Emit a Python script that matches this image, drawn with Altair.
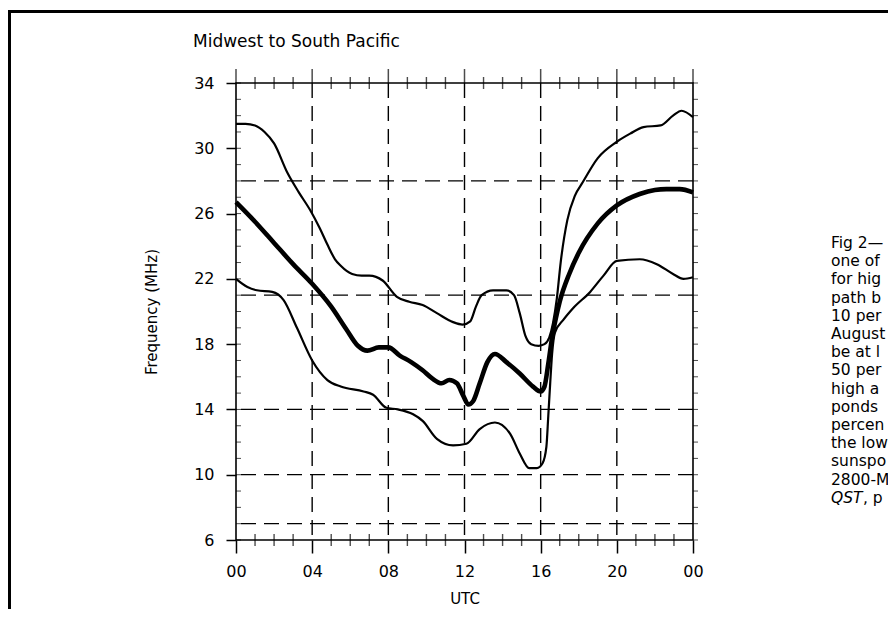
import altair as alt
import pandas as pd

# ---------------- data ----------------
title_text = "Midwest to South Pacific"
x_title = "UTC"
y_title = "Frequency (MHz)"
caption_lines = ["Fig 2\u2014", "one of", "for hig", "path b", "10 per", "August",
                 "be at l", "50 per", "high a", "ponds", "percen", "the low",
                 "sunspo", "2800-M"]
caption_last_italic = "QST"
caption_last_rest = ", p"

upper_hours = [0, 0.5, 1.0, 1.5, 2.0, 2.7, 3.3, 3.9, 4.4, 4.8, 5.2, 5.5, 6.1, 6.6, 7.0,
               7.7, 8.45, 9.1, 9.8, 10.55, 11.4, 11.9, 12.3, 12.6, 12.9, 13.5, 14.2,
               14.6, 14.9, 15.2, 15.5, 15.9, 16.2, 16.45, 16.65, 16.85, 17.05, 17.4,
               17.8, 18.2, 19.0, 20.0, 20.7, 21.4, 22.3, 22.95, 23.4, 24.0]
upper_mhz = [31.5, 31.5, 31.4, 31.0, 30.3, 28.5, 27.3, 26.2, 25.1, 24.1, 23.2, 22.8,
             22.3, 22.2, 22.2, 21.9, 20.9, 20.6, 20.4, 19.9, 19.35, 19.2, 19.4, 20.3,
             21.0, 21.3, 21.3, 21.0, 19.9, 18.5, 18.0, 17.9, 18.0, 18.4, 19.3, 20.8,
             23.0, 25.6, 27.1, 27.9, 29.4, 30.4, 30.9, 31.3, 31.4, 32.0, 32.3, 31.9]

median_hours = [0, 1, 2, 3, 4, 5, 5.8, 6.4, 6.9, 7.5, 8.0, 8.6, 9.2, 9.8, 10.3, 10.8,
                11.2, 11.6, 11.95, 12.2, 12.45, 12.8, 13.2, 13.6, 14.2, 14.9, 15.6,
                16.0, 16.2, 16.4, 16.6, 16.8, 17.0, 17.5, 18.0, 19.0, 20.0, 21.2, 22.0,
                22.6, 23.3, 24.0]
median_mhz = [26.7, 25.5, 24.2, 22.9, 21.7, 20.3, 18.9, 17.9, 17.6, 17.8, 17.8, 17.3,
              16.9, 16.4, 15.9, 15.6, 15.8, 15.6, 14.8, 14.3, 14.5, 15.6, 16.9, 17.4,
              16.9, 16.2, 15.4, 15.1, 15.4, 16.8, 18.4, 19.6, 20.6, 22.3, 23.6, 25.4,
              26.5, 27.2, 27.45, 27.5, 27.5, 27.3]

lower_hours = [0, 0.6, 1.1, 1.9, 2.5, 3.2, 4.0, 4.8, 5.5, 6.7, 7.2, 7.9, 8.5, 9.3, 9.8,
               10.55, 11.4, 12.1, 12.8, 13.6, 14.4, 14.9, 15.4, 15.8, 16.1, 16.3, 16.4,
               16.5, 16.6, 16.75, 17.2, 17.7, 18.6, 19.3, 20.0, 21.2, 22.1, 22.95, 23.5,
               24.0]
lower_mhz = [22.0, 21.5, 21.3, 21.2, 20.7, 19.0, 17.0, 15.8, 15.4, 15.1, 14.9, 14.1,
             14.0, 13.7, 13.3, 12.2, 11.8, 11.9, 12.8, 13.2, 12.5, 11.3, 10.4, 10.4,
             10.7, 11.7, 13.6, 15.6, 17.4, 18.7, 19.5, 20.2, 21.2, 22.2, 23.1, 23.2,
             22.9, 22.3, 22.0, 22.1]

grid_hours = [4, 8, 12, 16, 20]
grid_mhz = [7, 10, 14, 21, 28]
x_tick_values = [0, 4, 8, 12, 16, 20, 24]
y_tick_values = [6, 10, 14, 18, 22, 26, 30, 34]
minor_hours = [h for h in range(1, 24) if h % 4 != 0]
minor_mhz = list(range(6, 35))
x_domain = [0, 24]
y_domain = [6, 34]

# ---------------- tables ----------------
thin_curves = pd.concat([
    pd.DataFrame({"hour": upper_hours, "mhz": upper_mhz, "series": "upper"}),
    pd.DataFrame({"hour": lower_hours, "mhz": lower_mhz, "series": "lower"}),
])
median_curve = pd.DataFrame({"hour": median_hours, "mhz": median_mhz})
vgrid = pd.DataFrame({"hour": grid_hours})
hgrid = pd.DataFrame({"mhz": grid_mhz})
edge_ticks = pd.DataFrame(
    [{"hour": h, "mhz": y_domain[0]} for h in minor_hours]
    + [{"hour": h, "mhz": y_domain[1]} for h in minor_hours])
top_major = pd.DataFrame({"hour": x_tick_values, "mhz": y_domain[1]})
left_minor = pd.DataFrame({"hour": x_domain[0], "mhz": minor_mhz})
right_minor = pd.DataFrame({"hour": x_domain[1], "mhz": minor_mhz})
one = pd.DataFrame({"t": [""]})

FONT = "DejaVu Sans"
xs = alt.Scale(domain=x_domain, nice=False, zero=False)
ys = alt.Scale(domain=y_domain, nice=False, zero=False)
xaxis = alt.Axis(values=x_tick_values, tickSize=13, labelPadding=10,
                 labelExpr="datum.value == 24 ? '00' : (datum.value < 10 ? '0' + datum.value : '' + datum.value)",
                 title=x_title, titlePadding=12, grid=False, domain=False,
                 labelFontSize=16, titleFontSize=15, labelFont=FONT, titleFont=FONT,
                 titleFontWeight="normal", tickColor="black", tickWidth=1.5,
                 labelColor="black", titleColor="black", labelFlush=False)
yaxis = alt.Axis(values=y_tick_values, tickSize=10, labelPadding=12,
                 title=y_title, titlePadding=34, grid=False, domain=False,
                 labelFontSize=16, titleFontSize=15, labelFont=FONT, titleFont=FONT,
                 titleFontWeight="normal", tickColor="black", tickWidth=1.5,
                 labelColor="black", titleColor="black", labelFlush=False)
X = alt.X("hour:Q", scale=xs, axis=xaxis)
Y = alt.Y("mhz:Q", scale=ys, axis=yaxis)

dash = [15, 8]
vg = alt.Chart(vgrid).mark_rule(color="black", strokeWidth=1.4, strokeDash=dash).encode(x=X)
hg = alt.Chart(hgrid).mark_rule(color="black", strokeWidth=1.3, strokeDash=dash).encode(y=Y)

thin = alt.Chart(thin_curves).mark_line(color="black", interpolate="monotone",
                                        strokeWidth=2.2).encode(
    x=X, y=Y, detail="series:N")
thick = alt.Chart(median_curve).mark_line(color="black", interpolate="monotone",
                                          strokeWidth=4.6).encode(x=X, y=Y)

edge = alt.Chart(edge_ticks).mark_tick(orient="vertical", size=12, thickness=1.4,
                                        color="black").encode(x=X, y=Y)
topmaj = alt.Chart(top_major).mark_tick(orient="vertical", size=14, thickness=1.5,
                                         color="black", yOffset=-7).encode(x=X, y=Y)
lmin = alt.Chart(left_minor).mark_tick(orient="horizontal", size=5, thickness=1,
                                        color="black", xOffset=2.5).encode(x=X, y=Y)
rmin = alt.Chart(right_minor).mark_tick(orient="horizontal", size=5, thickness=1,
                                         color="black", xOffset=2.5).encode(x=X, y=Y)

title = alt.Chart(one).mark_text(text=title_text, font=FONT, fontSize=17, align="left",
                                 baseline="alphabetic", color="black").encode(
    x=alt.value(-43), y=alt.value(-36))
caption = alt.Chart(one).mark_text(text="\n".join(caption_lines), lineBreak="\n",
                                   lineHeight=18.2, font=FONT, fontSize=15.5,
                                   align="left", baseline="alphabetic",
                                   color="black").encode(
    x=alt.value(595), y=alt.value(165))
cap_it = alt.Chart(one).mark_text(text=caption_last_italic, font=FONT, fontSize=15.5,
                                  fontStyle="italic", align="left",
                                  baseline="alphabetic", color="black").encode(
    x=alt.value(595), y=alt.value(165 + 18.2 * 14))
cap_rest = alt.Chart(one).mark_text(text=caption_last_rest, font=FONT, fontSize=15.5,
                                    align="left", baseline="alphabetic",
                                    color="black").encode(
    x=alt.value(627), y=alt.value(165 + 18.2 * 14))

border_left = alt.Chart(one).mark_rule(color="black", strokeWidth=3).encode(
    x=alt.value(-226.5), y=alt.value(-73), y2=alt.value(526))
border_top = alt.Chart(one).mark_rule(color="black", strokeWidth=3).encode(
    x=alt.value(-228), x2=alt.value(652), y=alt.value(-71.5))

chart = alt.layer(vg, hg, thin, thick, edge, topmaj, lmin, rmin, title, caption, cap_it,
                  cap_rest, border_left, border_top).properties(
    width=457, height=457,
    padding={"left": 228, "top": 75, "right": 195, "bottom": 69},
    autosize=alt.AutoSizeParams(type="none"),
    background="white",
).configure_view(stroke="black", strokeWidth=1.6)

chart.save("out.html", embed_options={"renderer": "svg", "actions": False})
